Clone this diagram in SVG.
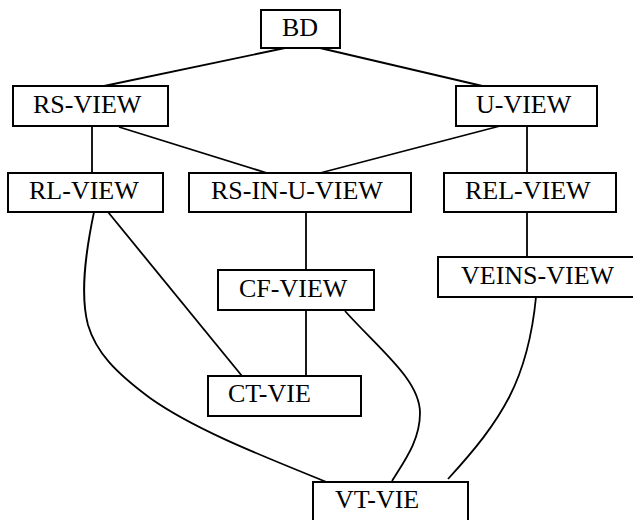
<svg xmlns="http://www.w3.org/2000/svg" width="633" height="520" viewBox="0 0 633 520">
<style>
.box{fill:#fff;stroke:#000;stroke-width:2}
.lbl{font-family:"Liberation Serif","Times New Roman",serif;font-size:26px;fill:#000}
.edge{fill:none;stroke:#000;stroke-width:1.8}
</style>
<rect width="633" height="520" fill="#fff"/>
<g id="connectors">
<line class="edge" x1="285" y1="48" x2="104" y2="86"/>
<line class="edge" x1="320" y1="48" x2="491" y2="88"/>
<line class="edge" x1="92" y1="126" x2="92" y2="173"/>
<line class="edge" x1="119" y1="127" x2="267" y2="173"/>
<line class="edge" x1="500" y1="126" x2="320" y2="173"/>
<line class="edge" x1="527" y1="126" x2="527" y2="173"/>
<line class="edge" x1="306" y1="212" x2="306" y2="270"/>
<line class="edge" x1="527" y1="212" x2="527" y2="262"/>
<line class="edge" x1="108" y1="212" x2="242" y2="376"/>
<line class="edge" x1="306" y1="310" x2="306" y2="376"/>
<path class="edge" d="M94,212 C85,255 80,295 88,325 C96,352 115,372 150,398 C195,430 265,457 329,483"/>
<path class="edge" d="M345,311 C380,350 420,380 420,413 C420,440 405,460 392,481"/>
<path class="edge" d="M536,297 C528,380 502,420 448,479"/>
</g>
<g id="BD"><rect class="box" x="261" y="10" width="79" height="38"/><text class="lbl" x="282" y="36">BD</text></g>
<g id="RS-VIEW"><rect class="box" x="13" y="86" width="155" height="40"/><text class="lbl" x="33" y="113">RS-VIEW</text></g>
<g id="U-VIEW"><rect class="box" x="456" y="86" width="141" height="40"/><text class="lbl" x="476" y="113">U-VIEW</text></g>
<g id="RL-VIEW"><rect class="box" x="8" y="173" width="155" height="39"/><text class="lbl" x="29" y="199">RL-VIEW</text></g>
<g id="RS-IN-U-VIEW"><rect class="box" x="189" y="173" width="222" height="39"/><text class="lbl" x="211" y="199">RS-IN-U-VIEW</text></g>
<g id="REL-VIEW"><rect class="box" x="444" y="173" width="172" height="39"/><text class="lbl" x="465" y="199">REL-VIEW</text></g>
<g id="VEINS-VIEW"><rect class="box" x="438" y="257" width="200" height="40"/><text class="lbl" x="461" y="284">VEINS-VIEW</text></g>
<g id="CF-VIEW"><rect class="box" x="218" y="270" width="156" height="40"/><text class="lbl" x="239" y="297">CF-VIEW</text></g>
<g id="CT-VIE"><rect class="box" x="208" y="376" width="153" height="40"/><text class="lbl" x="228" y="402">CT-VIE</text></g>
<g id="VT-VIE"><rect class="box" x="313" y="482" width="155" height="45"/><text class="lbl" x="335" y="508">VT-VIE</text></g>
</svg>
